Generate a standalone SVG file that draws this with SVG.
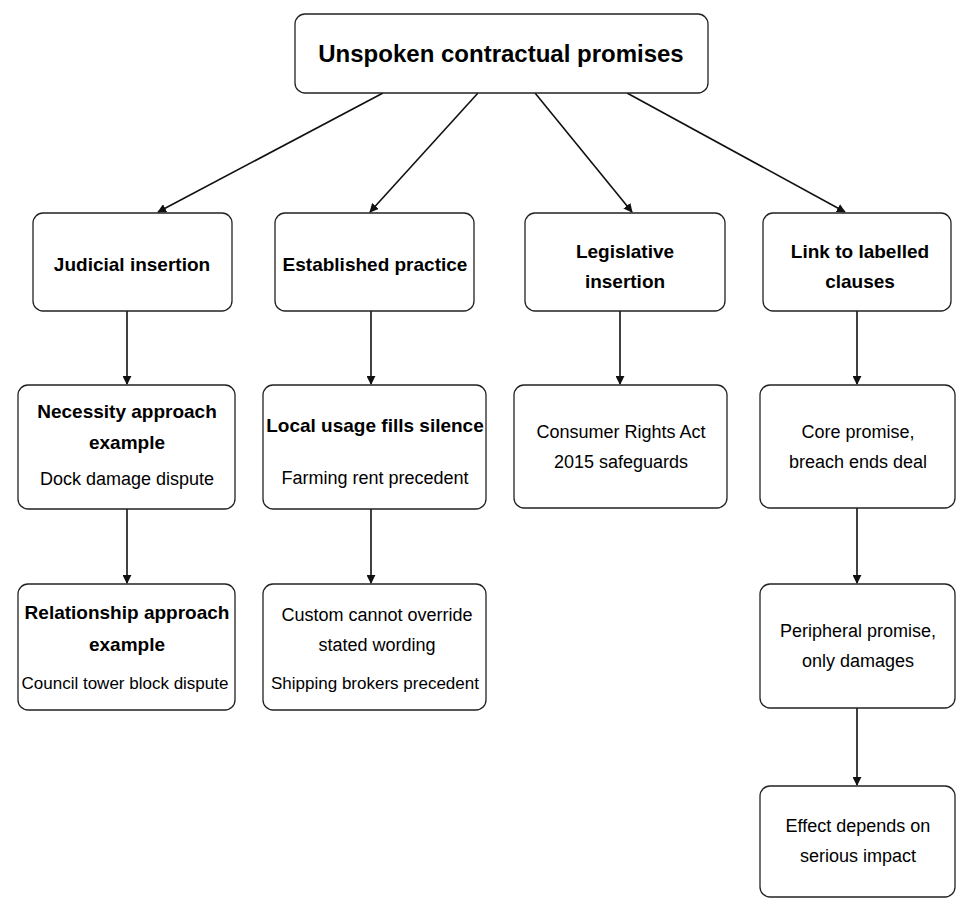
<svg xmlns="http://www.w3.org/2000/svg" width="974" height="915" viewBox="0 0 974 915">
<style>
.b{fill:#fff;stroke:#222;stroke-width:1.3}
.t{font-family:"Liberation Sans",Arial,sans-serif;fill:#000;text-anchor:middle}
.h{font-weight:bold;font-size:19px}
.s{font-size:18px}
.c line{stroke:#111;stroke-width:1.6;marker-end:url(#a)}
</style>
<defs><marker id="a" viewBox="0 0 10 10" refX="9" refY="5" markerWidth="9" markerHeight="9" markerUnits="userSpaceOnUse" orient="auto"><path d="M0,0L10,5L0,10z" fill="#111"/></marker></defs>
<rect width="974" height="915" fill="#fff"/>
<g class="c">
<line x1="383" y1="93" x2="158" y2="212"/>
<line x1="478" y1="93" x2="370" y2="212"/>
<line x1="535" y1="93" x2="632" y2="212"/>
<line x1="627" y1="93" x2="845" y2="212"/>
<line x1="127" y1="311" x2="127" y2="384"/>
<line x1="371" y1="311" x2="371" y2="384"/>
<line x1="620" y1="311" x2="620" y2="384"/>
<line x1="857" y1="311" x2="857" y2="384"/>
<line x1="127" y1="509" x2="127" y2="583"/>
<line x1="371" y1="509" x2="371" y2="583"/>
<line x1="857" y1="508" x2="857" y2="583"/>
<line x1="857" y1="708" x2="857" y2="785"/>
</g>
<g id="root"><rect class="b" x="295" y="14" width="413" height="79" rx="10"/><text class="t" x="501" y="62" font-weight="bold" font-size="24">Unspoken contractual promises</text></g>
<g id="judicial"><rect class="b" x="33" y="213" width="199" height="98" rx="10"/><text class="t h" x="132" y="271">Judicial insertion</text></g>
<g id="established"><rect class="b" x="275" y="213" width="199" height="98" rx="10"/><text class="t h" x="375" y="271">Established practice</text></g>
<g id="legislative"><rect class="b" x="525" y="213" width="200" height="98" rx="10"/><text class="t h" x="625" y="258" font-size="21">Legislative</text><text class="t h" x="625" y="288" font-size="21">insertion</text></g>
<g id="link"><rect class="b" x="763" y="213" width="188" height="98" rx="10"/><text class="t h" x="860" y="258" font-size="21">Link to labelled</text><text class="t h" x="860" y="288" font-size="21">clauses</text></g>
<g id="necessity"><rect class="b" x="18" y="385" width="217" height="124" rx="10"/><text class="t h" x="127" y="418">Necessity approach</text><text class="t h" x="127" y="449">example</text><text class="t s" x="127" y="485">Dock damage dispute</text></g>
<g id="local"><rect class="b" x="263" y="385" width="223" height="124" rx="10"/><text class="t h" x="375" y="432">Local usage fills silence</text><text class="t s" x="375" y="484">Farming rent precedent</text></g>
<g id="consumer"><rect class="b" x="514" y="385" width="213" height="123" rx="10"/><text class="t s" x="621" y="438">Consumer Rights Act</text><text class="t s" x="621" y="468">2015 safeguards</text></g>
<g id="core"><rect class="b" x="760" y="385" width="195" height="123" rx="10"/><text class="t s" x="858" y="438">Core promise,</text><text class="t s" x="858" y="468">breach ends deal</text></g>
<g id="relationship"><rect class="b" x="18" y="584" width="217" height="126" rx="10"/><text class="t h" x="127" y="619">Relationship approach</text><text class="t h" x="127" y="651">example</text><text class="t" font-size="17" x="125" y="689">Council tower block dispute</text></g>
<g id="custom"><rect class="b" x="263" y="584" width="223" height="126" rx="10"/><text class="t s" x="377" y="621">Custom cannot override</text><text class="t s" x="377" y="651">stated wording</text><text class="t" font-size="17" x="375" y="689">Shipping brokers precedent</text></g>
<g id="peripheral"><rect class="b" x="760" y="584" width="195" height="124" rx="10"/><text class="t s" x="858" y="637">Peripheral promise,</text><text class="t s" x="858" y="667">only damages</text></g>
<g id="effect"><rect class="b" x="760" y="786" width="195" height="111" rx="10"/><text class="t s" x="858" y="832">Effect depends on</text><text class="t s" x="858" y="862">serious impact</text></g>
</svg>
